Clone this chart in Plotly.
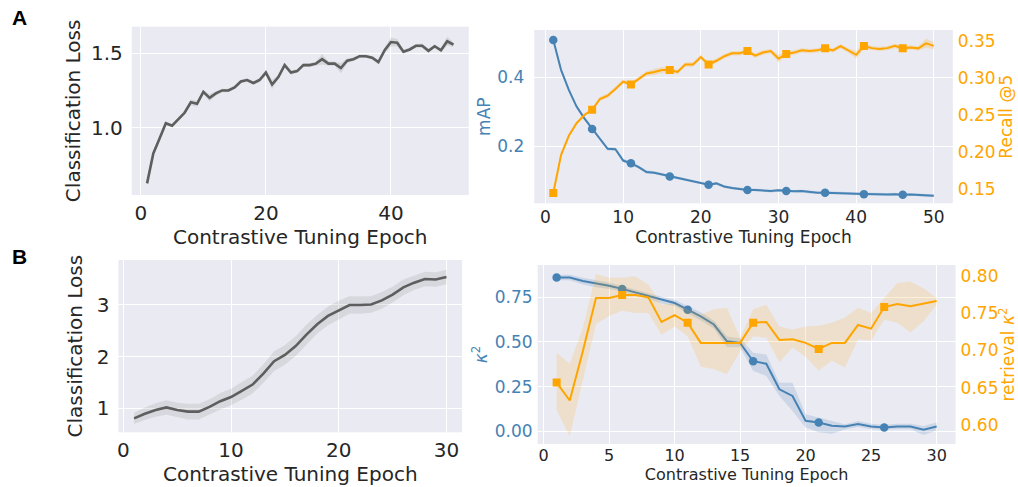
import plotly.graph_objects as go

# ---------------- data ----------------
epochs_a = list(range(1, 51))
loss_a = [0.626, 0.827, 0.928, 1.03, 1.013, 1.06, 1.10, 1.17, 1.16, 1.24,
          1.20, 1.23, 1.25, 1.25, 1.27, 1.31, 1.32, 1.30, 1.32, 1.37,
          1.29, 1.34, 1.42, 1.37, 1.38, 1.42, 1.42, 1.43, 1.46, 1.43,
          1.43, 1.40, 1.45, 1.46, 1.48, 1.48, 1.47, 1.44, 1.52, 1.575,
          1.57, 1.51, 1.525, 1.55, 1.55, 1.516, 1.547, 1.52, 1.58, 1.558]
loss_a_hw = [0.012, 0.012, 0.012, 0.012, 0.012, 0.012, 0.015, 0.02, 0.02, 0.015,
             0.025, 0.015, 0.012, 0.012, 0.012, 0.012, 0.012, 0.012, 0.015, 0.02,
             0.03, 0.015, 0.015, 0.015, 0.012, 0.012, 0.012, 0.012, 0.035, 0.015,
             0.015, 0.035, 0.015, 0.012, 0.012, 0.012, 0.012, 0.015, 0.02, 0.03,
             0.025, 0.015, 0.012, 0.012, 0.015, 0.015, 0.012, 0.015, 0.03, 0.015]

map_a = [0.507, 0.421, 0.363, 0.315, 0.281, 0.250, 0.222, 0.193, 0.192, 0.159,
         0.151, 0.140, 0.126, 0.124, 0.119, 0.113, 0.108, 0.103, 0.099, 0.095,
         0.089, 0.093, 0.084, 0.080, 0.077, 0.074, 0.074, 0.073, 0.071, 0.073,
         0.071, 0.070, 0.071, 0.068, 0.066, 0.066, 0.066, 0.065, 0.064, 0.063,
         0.062, 0.061, 0.061, 0.061, 0.062, 0.060, 0.061, 0.060, 0.059, 0.057]
map_a_hw = [0.004] * 3 + [0.005] * 10 + [0.004] * 37

recall_a = [0.145, 0.196, 0.222, 0.239, 0.250, 0.257, 0.2715, 0.276, 0.285, 0.295,
            0.291, 0.299, 0.306, 0.308, 0.3105, 0.3105, 0.308, 0.318, 0.318, 0.328,
            0.318, 0.323, 0.329, 0.333, 0.333, 0.336, 0.330, 0.334, 0.336, 0.326,
            0.332, 0.334, 0.337, 0.336, 0.337, 0.3397, 0.337, 0.3426, 0.337, 0.331,
            0.343, 0.340, 0.339, 0.340, 0.343, 0.3397, 0.341, 0.3397, 0.3465, 0.343]
recall_a_hw = [0.002, 0.002, 0.002, 0.002, 0.002, 0.002, 0.003, 0.003, 0.003, 0.003,
               0.003, 0.003, 0.003, 0.004, 0.004, 0.003, 0.003, 0.003, 0.003, 0.003,
               0.003, 0.003, 0.003, 0.003, 0.003, 0.003, 0.003, 0.003, 0.003, 0.005,
               0.003, 0.003, 0.003, 0.003, 0.003, 0.003, 0.003, 0.003, 0.003, 0.005,
               0.004, 0.003, 0.003, 0.003, 0.003, 0.003, 0.003, 0.003, 0.006, 0.005]

epochs_b = list(range(1, 31))
loss_b = [0.81, 0.90, 0.97, 1.02, 0.97, 0.94, 0.94, 1.03, 1.14, 1.22,
          1.34, 1.46, 1.67, 1.91, 2.03, 2.20, 2.42, 2.62, 2.78, 2.89,
          2.99, 2.99, 3.00, 3.08, 3.19, 3.33, 3.42, 3.49, 3.48, 3.53]
loss_b_hw = [0.11, 0.12, 0.13, 0.14, 0.14, 0.15, 0.15, 0.15, 0.16, 0.16,
             0.17, 0.17, 0.18, 0.19, 0.19, 0.19, 0.19, 0.18, 0.18, 0.18,
             0.17, 0.17, 0.16, 0.16, 0.15, 0.15, 0.14, 0.14, 0.14, 0.14]

kappa_b = [0.860, 0.860, 0.840, 0.827, 0.814, 0.796, 0.776, 0.754, 0.735, 0.717,
           0.680, 0.643, 0.597, 0.503, 0.494, 0.392, 0.378, 0.235, 0.198, 0.059,
           0.050, 0.031, 0.027, 0.041, 0.027, 0.022, 0.027, 0.027, 0.009, 0.027]
kappa_b_lo = [0.845, 0.845, 0.820, 0.805, 0.795, 0.780, 0.760, 0.740, 0.715, 0.700,
              0.660, 0.620, 0.575, 0.470, 0.470, 0.337, 0.310, 0.198, 0.114, 0.022,
              -0.005, -0.013, 0.010, 0.025, 0.012, 0.008, 0.012, 0.012, -0.020, 0.005]
kappa_b_hi = [0.875, 0.875, 0.858, 0.845, 0.832, 0.812, 0.792, 0.770, 0.752, 0.735,
              0.700, 0.665, 0.620, 0.530, 0.520, 0.439, 0.430, 0.272, 0.272, 0.096,
              0.078, 0.060, 0.040, 0.058, 0.042, 0.037, 0.042, 0.042, 0.030, 0.050]

retr_b = [0.657, 0.633, 0.699, 0.770, 0.770, 0.774, 0.774, 0.771, 0.738, 0.747,
          0.737, 0.710, 0.710, 0.710, 0.710, 0.737, 0.738, 0.714, 0.715, 0.710,
          0.702, 0.710, 0.710, 0.734, 0.729, 0.758, 0.762, 0.759, 0.763, 0.766]
retr_b_lo = [0.620, 0.585, 0.660, 0.735, 0.746, 0.753, 0.750, 0.750, 0.721, 0.732,
             0.719, 0.678, 0.675, 0.668, 0.699, 0.719, 0.717, 0.684, 0.704, 0.691,
             0.673, 0.686, 0.677, 0.715, 0.713, 0.741, 0.737, 0.724, 0.739, 0.761]
retr_b_hi = [0.697, 0.682, 0.730, 0.802, 0.797, 0.797, 0.799, 0.788, 0.761, 0.763,
             0.755, 0.748, 0.755, 0.757, 0.717, 0.755, 0.761, 0.732, 0.728, 0.732,
             0.733, 0.737, 0.744, 0.757, 0.750, 0.770, 0.790, 0.792, 0.783, 0.770]

# ---------------- style ----------------
W, H = 1018, 487
BG = "#EAEAF2"
TXT = "#262626"
GREY = "#5e5e5e"
BLUE = "#4682B4"
ORANGE = "#FFA500"
FONT = "DejaVu Sans"
FS_BIG = 20   # left-hand panels
FS_SMALL = 17  # right-hand panels


def dom_x(a, b):
    return [a / W, b / W]


def dom_y(top, bottom):
    return [1 - bottom / H, 1 - top / H]


def band(fig, x, lo, hi, color, xa, ya):
    fig.add_trace(go.Scatter(x=list(x) + list(x)[::-1], y=list(hi) + list(lo)[::-1],
                             fill="toself", fillcolor=color, line=dict(width=0),
                             mode="lines", hoverinfo="skip", showlegend=False,
                             xaxis=xa, yaxis=ya))


fig = go.Figure()

# Panel A left
band(fig, epochs_a, [v - h for v, h in zip(loss_a, loss_a_hw)],
     [v + h for v, h in zip(loss_a, loss_a_hw)], "rgba(94,94,94,0.15)", "x", "y")
fig.add_trace(go.Scatter(x=epochs_a, y=loss_a, mode="lines", line=dict(color=GREY, width=2.6),
                         showlegend=False, xaxis="x", yaxis="y"))

# Panel A right
band(fig, epochs_a, [v - h for v, h in zip(map_a, map_a_hw)],
     [v + h for v, h in zip(map_a, map_a_hw)], "rgba(70,130,180,0.22)", "x2", "y2")
fig.add_trace(go.Scatter(x=epochs_a, y=map_a, mode="lines",
                         line=dict(color=BLUE, width=2),
                         showlegend=False, xaxis="x2", yaxis="y2"))
band(fig, epochs_a, [v - h for v, h in zip(recall_a, recall_a_hw)],
     [v + h for v, h in zip(recall_a, recall_a_hw)], "rgba(255,165,0,0.22)", "x2", "y3")
fig.add_trace(go.Scatter(x=epochs_a, y=recall_a, mode="lines",
                         line=dict(color=ORANGE, width=2),
                         showlegend=False, xaxis="x2", yaxis="y3"))

# markers every 5 epochs
mk_a = epochs_a[::5]
fig.add_trace(go.Scatter(x=mk_a, y=map_a[::5], mode="markers",
                         marker=dict(symbol="circle", size=8.5, color=BLUE),
                         showlegend=False, xaxis="x2", yaxis="y2"))
fig.add_trace(go.Scatter(x=mk_a, y=recall_a[::5], mode="markers",
                         marker=dict(symbol="square", size=8, color=ORANGE),
                         showlegend=False, xaxis="x2", yaxis="y3"))

# Panel B left
band(fig, epochs_b, [v - h for v, h in zip(loss_b, loss_b_hw)],
     [v + h for v, h in zip(loss_b, loss_b_hw)], "rgba(94,94,94,0.13)", "x3", "y4")
fig.add_trace(go.Scatter(x=epochs_b, y=loss_b, mode="lines", line=dict(color=GREY, width=2.6),
                         showlegend=False, xaxis="x3", yaxis="y4"))

# Panel B right
band(fig, epochs_b, kappa_b_lo, kappa_b_hi, "rgba(70,130,180,0.18)", "x4", "y5")
fig.add_trace(go.Scatter(x=epochs_b, y=kappa_b, mode="lines", line=dict(color=BLUE, width=2),
                         showlegend=False, xaxis="x4", yaxis="y5"))
band(fig, epochs_b, retr_b_lo, retr_b_hi, "rgba(255,165,0,0.16)", "x4", "y6")
fig.add_trace(go.Scatter(x=epochs_b, y=retr_b, mode="lines", line=dict(color=ORANGE, width=2),
                         showlegend=False, xaxis="x4", yaxis="y6"))
mk_b = epochs_b[::5]
fig.add_trace(go.Scatter(x=mk_b, y=kappa_b[::5], mode="markers",
                         marker=dict(symbol="circle", size=8.5, color=BLUE),
                         showlegend=False, xaxis="x4", yaxis="y5"))
fig.add_trace(go.Scatter(x=mk_b, y=retr_b[::5], mode="markers",
                         marker=dict(symbol="square", size=8, color=ORANGE),
                         showlegend=False, xaxis="x4", yaxis="y6"))


def ax(domain, rng, tickvals, size, fmt=None, color=TXT, grid=True, **kw):
    d = dict(domain=domain, range=rng, tickvals=tickvals, showgrid=grid,
             gridcolor="white", gridwidth=1.3, zeroline=False, showline=False,
             ticks="", tickfont=dict(family=FONT, size=size, color=color))
    if fmt:
        d["tickformat"] = fmt
    d.update(kw)
    return d


def title(text, size, color=TXT, standoff=6):
    return dict(text=text, font=dict(family=FONT, size=size, color=color), standoff=standoff)


fig.update_layout(
    width=W, height=H, margin=dict(l=0, r=0, t=0, b=0),
    paper_bgcolor="white", plot_bgcolor=BG, showlegend=False,
    # A left
    xaxis=ax(dom_x(130, 467.7), [-1.45, 52.45], [0, 20, 40], FS_BIG, anchor="y",
             title=title("Contrastive Tuning Epoch", FS_BIG, standoff=1), ticklabelstandoff=4),
    yaxis=ax(dom_y(26.7, 195), [0.548, 1.678], [1.0, 1.5], FS_BIG, ".1f", anchor="x",
             title=title("Classification Loss", FS_BIG, standoff=4), ticklabelstandoff=8),
    # A right
    xaxis2=ax(dom_x(533.3, 952.7), [-1.45, 52.45], [0, 10, 20, 30, 40, 50], FS_SMALL, anchor="y2",
              title=title("Contrastive Tuning Epoch", FS_SMALL, standoff=0), ticklabelstandoff=2),
    yaxis2=ax(dom_y(30, 203.3), [0.0355, 0.5362], [0.2, 0.4], FS_SMALL, ".1f", color=BLUE,
              anchor="x2", title=title("mAP", FS_SMALL, BLUE, 2), ticklabelstandoff=9),
    yaxis3=ax(dom_y(30, 203.3), [0.1312, 0.3644], [0.15, 0.20, 0.25, 0.30, 0.35], FS_SMALL, ".2f",
              color=ORANGE, grid=False, anchor="x2", overlaying="y2", side="right",
              title=title("Recall @5", FS_SMALL, ORANGE, 0), ticklabelstandoff=4),
    # B left
    xaxis3=ax(dom_x(116.7, 461), [-0.45, 31.45], [0, 10, 20, 30], FS_BIG, anchor="y4",
              title=title("Contrastive Tuning Epoch", FS_BIG, standoff=1), ticklabelstandoff=4),
    yaxis4=ax(dom_y(260, 432.3), [0.542, 3.856], [1, 2, 3], FS_BIG, "d", anchor="x3",
              title=title("Classification Loss", FS_BIG, standoff=8), ticklabelstandoff=8),
    # B right
    xaxis4=ax(dom_x(536.7, 955.5), [-0.45, 31.45], [0, 5, 10, 15, 20, 25, 30], 16, anchor="y5",
              title=title("Contrastive Tuning Epoch", 16, standoff=0), ticklabelstandoff=0),
    yaxis5=ax(dom_y(265, 444), [-0.0705, 0.9295], [0.0, 0.25, 0.5, 0.75], FS_SMALL, ".2f", color=BLUE,
              anchor="x4", title=title("<i>κ</i><sup>2</sup>", FS_SMALL, BLUE, 2), ticklabelstandoff=4),
    yaxis6=ax(dom_y(265, 444), [0.5748, 0.8142], [0.60, 0.65, 0.70, 0.75, 0.80], FS_SMALL, ".2f",
              color=ORANGE, grid=False, anchor="x4", overlaying="y5", side="right",
              title=title("retrieval <i>κ</i><sup>2</sup>", FS_SMALL, ORANGE, 0), ticklabelstandoff=4),
)

fig.add_annotation(text="<b>A</b>", x=18 / W, y=1 - 18 / H, xref="paper", yref="paper",
                   showarrow=False, font=dict(family="Liberation Sans", size=21, color="black"),
                   xanchor="center", yanchor="middle")
fig.add_annotation(text="<b>B</b>", x=18 / W, y=1 - 256 / H, xref="paper", yref="paper",
                   showarrow=False, font=dict(family="Liberation Sans", size=21, color="black"),
                   xanchor="center", yanchor="middle")

fig.write_html("out.html")
